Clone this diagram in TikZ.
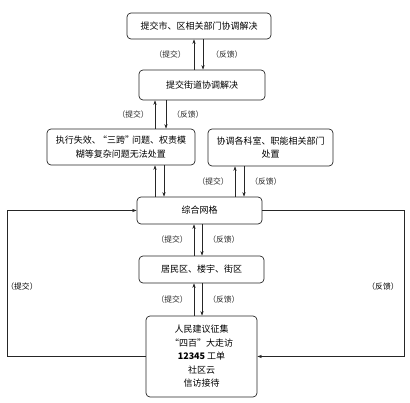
\documentclass[tikz,border=0pt]{standalone}
\usepackage{fontspec}
\newfontfamily\cjk{Noto Sans CJK SC}
\usetikzlibrary{arrows.meta, positioning, calc}

\begin{document}
\begin{tikzpicture}[
    x=1pt, y=-1pt,
    box/.style={rectangle, rounded corners=4pt, draw=black!85, line width=0.7pt, align=center, inner sep=2pt, font=\cjk\fontsize{9}{13.5}\selectfont},
    arrow/.style={-{Stealth[length=4.5pt,width=3.2pt]}, line width=0.6pt, black!85},
    lbl/.style={font=\cjk\fontsize{7.8}{9}\selectfont, inner sep=1pt}
]
    \useasboundingbox (0,0) rectangle (410,403);

    \node[box, minimum width=144pt, minimum height=26pt] (city) at (199,26) {提交市、区相关部门协调解决};
    \node[box, minimum width=126pt, minimum height=30pt] (street) at (202,85) {提交街道协调解决};
    \node[box, minimum width=148pt, minimum height=36pt] (complex) at (121,147) {执行失效、\hspace{-3pt}“三跨”\hspace{-2pt}问题、权责模\\糊等复杂问题无法处置};
    \node[box, minimum width=125pt, minimum height=37pt] (dept) at (270.5,147.5) {协调各科室、职能相关部门\\处置};
    \node[box, minimum width=125pt, minimum height=27pt] (grid) at (199.5,210.5) {综合网格};
    \node[box, minimum width=125pt, minimum height=27pt] (area) at (201.5,269.5) {居民区、楼宇、街区};
    \node[box, minimum width=111pt, minimum height=81pt] (source) at (201.5,356.5) {人民建议征集\\“四百”大走访\\\textbf{12345} 工单\\社区云\\信访接待};

    % street <-> city
    \draw[arrow] ([xshift=-8pt]street.north) -- ([xshift=-8pt]street.north |- city.south) node[midway, left=7pt, lbl] (sub1) {（提交）};
    \draw[arrow] ([xshift=1pt]street.north |- city.south) -- ([xshift=1pt]street.north) node[midway, right=7pt, lbl] (fb1) {（反馈）};

    % complex <-> street
    \draw[arrow] ([xshift=34pt]complex.north) -- ([xshift=34pt]complex.north |- street.south) node[midway, left=5pt, lbl] (sub2) {（提交）};
    \draw[arrow] ([xshift=45pt]complex.north |- street.south) -- ([xshift=45pt]complex.north) node[midway, right=5pt, lbl] (fb2) {（反馈）};

    % grid <-> complex
    \draw[arrow] ([xshift=34pt]complex.south |- grid.north) -- ([xshift=34pt]complex.south);
    \draw[arrow] ([xshift=43pt]complex.south) -- ([xshift=43pt]complex.south |- grid.north);

    % grid <-> dept
    \draw[arrow] ([xshift=-35.5pt]dept.south |- grid.north) -- ([xshift=-35.5pt]dept.south) node[midway, left=5pt, lbl] (sub3) {（提交）};
    \draw[arrow] ([xshift=-26.5pt]dept.south) -- ([xshift=-26.5pt]dept.south |- grid.north) node[midway, right=5pt, lbl] (fb3) {（反馈）};

    % area <-> grid
    \draw[arrow] ([xshift=-7.5pt]area.north) -- ([xshift=-7.5pt]area.north |- grid.south) node[midway, left=5pt, lbl] (sub4) {（提交）};
    \draw[arrow] ([xshift=0.5pt]area.north |- grid.south) -- ([xshift=0.5pt]area.north) node[midway, right=5pt, lbl] (fb4) {（反馈）};

    % source <-> area
    \draw[arrow] ([xshift=-7.5pt]source.north) -- ([xshift=-7.5pt]source.north |- area.south) node[midway, left=5pt, lbl] (sub5) {（提交）};
    \draw[arrow] ([xshift=0.5pt]source.north |- area.south) -- ([xshift=0.5pt]source.north) node[midway, right=5pt, lbl] (fb5) {（反馈）};

    % outer loop
    \coordinate (lft) at (7,0);
    \coordinate (rgt) at (404,0);
    \draw[arrow] (source.west) -- (source.west -| lft) |- (grid.west);
    \draw[arrow] (grid.east) -- (grid.east -| rgt) |- (source.east);
    \node[lbl] (sub6) at (22,287) {（提交）};
    \node[lbl] (fb6) at (383,287) {（反馈）};
\end{tikzpicture}
\end{document}
